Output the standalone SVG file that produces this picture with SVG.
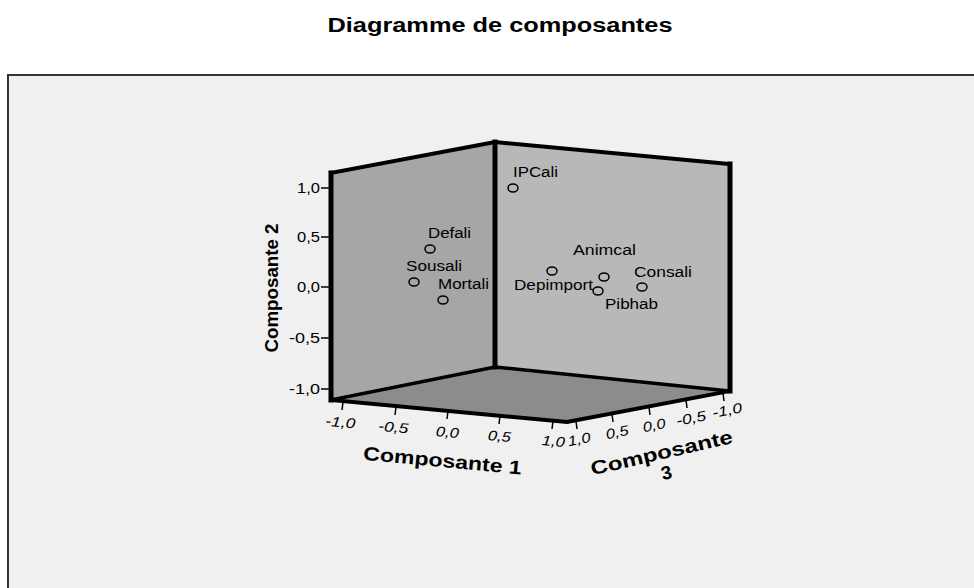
<svg xmlns="http://www.w3.org/2000/svg" width="974" height="588" viewBox="0 0 974 588">
<style>
text{font-family:"Liberation Sans",Arial,sans-serif;fill:#000}
.title{font-size:20px;font-weight:bold}
.axt{font-size:19px;font-weight:bold}
.tk{font-size:14px}
.tki{font-size:14px;font-style:italic}
.lbl{font-size:14px}
.pt{fill:none;stroke:#000;stroke-width:1.5}
.edge{stroke:#000;fill:none;stroke-linecap:square}
.tick{stroke:#000;stroke-width:1.5}
</style>
<rect x="0" y="0" width="974" height="588" fill="#fff"/>
<text class="title" x="500" y="32" text-anchor="middle" textLength="345" lengthAdjust="spacingAndGlyphs">Diagramme de composantes</text>
<rect x="8" y="75" width="980" height="530" fill="#f0f0f0" stroke="#333" stroke-width="2"/>
<g id="walls">
<polygon points="331,173 495,142 495,367 331,400" fill="#a6a6a6"/>
<polygon points="495,142 730,164 730,391 495,367" fill="#b8b8b8"/>
<polygon points="331,400 495,367 730,391 567,422" fill="#8c8c8c"/>
</g>
<g id="edges">
<polyline class="edge" points="331,173 495,142 730,164" stroke-width="4"/>
<line class="edge" x1="331" y1="173" x2="331" y2="400" stroke-width="5"/>
<line class="edge" x1="495" y1="142" x2="495" y2="367" stroke-width="5"/>
<line class="edge" x1="730" y1="164" x2="730" y2="391" stroke-width="5"/>
<polyline class="edge" points="331,400 495,367 730,391" stroke-width="3.5"/>
<polyline class="edge" points="331,400 567,422 730,391" stroke-width="4"/>
</g>
<g id="axis2">
<line class="tick" x1="321" y1="188" x2="330" y2="188"/>
<line class="tick" x1="321" y1="237" x2="330" y2="237"/>
<line class="tick" x1="321" y1="287" x2="330" y2="287"/>
<line class="tick" x1="321" y1="338" x2="330" y2="338"/>
<line class="tick" x1="321" y1="389" x2="330" y2="389"/>
<text class="tk" x="297" y="193" textLength="23" lengthAdjust="spacingAndGlyphs">1,0</text>
<text class="tk" x="297" y="242" textLength="23" lengthAdjust="spacingAndGlyphs">0,5</text>
<text class="tk" x="297" y="292" textLength="23" lengthAdjust="spacingAndGlyphs">0,0</text>
<text class="tk" x="289" y="343" textLength="31" lengthAdjust="spacingAndGlyphs">-0,5</text>
<text class="tk" x="289" y="394" textLength="31" lengthAdjust="spacingAndGlyphs">-1,0</text>
<text class="axt" transform="translate(278,288) rotate(-90)" text-anchor="middle" textLength="129" lengthAdjust="spacingAndGlyphs">Composante 2</text>
</g>
<g id="axis1">
<line class="tick" x1="343" y1="402" x2="342" y2="410"/>
<line class="tick" x1="396" y1="407" x2="395" y2="415"/>
<line class="tick" x1="448" y1="411" x2="447" y2="419"/>
<line class="tick" x1="500" y1="416" x2="499" y2="424"/>
<line class="tick" x1="553" y1="421" x2="552" y2="429"/>
<text class="tki" transform="translate(340,427) rotate(5.3)" text-anchor="middle" textLength="30" lengthAdjust="spacingAndGlyphs">-1,0</text>
<text class="tki" transform="translate(393,432) rotate(5.3)" text-anchor="middle" textLength="30" lengthAdjust="spacingAndGlyphs">-0,5</text>
<text class="tki" transform="translate(447,437) rotate(5.3)" text-anchor="middle" textLength="23" lengthAdjust="spacingAndGlyphs">0,0</text>
<text class="tki" transform="translate(499,441) rotate(5.3)" text-anchor="middle" textLength="23" lengthAdjust="spacingAndGlyphs">0,5</text>
<text class="tki" transform="translate(553,446) rotate(5.3)" text-anchor="middle" textLength="23" lengthAdjust="spacingAndGlyphs">1,0</text>
<text class="axt" transform="translate(442,467) rotate(5.3)" text-anchor="middle" textLength="159" lengthAdjust="spacingAndGlyphs">Composante 1</text>
</g>
<g id="axis3">
<line class="tick" x1="576" y1="421" x2="577" y2="429"/>
<line class="tick" x1="612" y1="414" x2="613" y2="422"/>
<line class="tick" x1="649" y1="407" x2="650" y2="415"/>
<line class="tick" x1="686" y1="400" x2="687" y2="408"/>
<line class="tick" x1="723" y1="393" x2="724" y2="401"/>
<text class="tki" transform="translate(580,444) rotate(-11)" text-anchor="middle" textLength="23" lengthAdjust="spacingAndGlyphs">1,0</text>
<text class="tki" transform="translate(618,437) rotate(-11)" text-anchor="middle" textLength="23" lengthAdjust="spacingAndGlyphs">0,5</text>
<text class="tki" transform="translate(655,430) rotate(-11)" text-anchor="middle" textLength="23" lengthAdjust="spacingAndGlyphs">0,0</text>
<text class="tki" transform="translate(692,423) rotate(-11)" text-anchor="middle" textLength="30" lengthAdjust="spacingAndGlyphs">-0,5</text>
<text class="tki" transform="translate(728,415) rotate(-11)" text-anchor="middle" textLength="30" lengthAdjust="spacingAndGlyphs">-1,0</text>
<text class="axt" transform="translate(663,459) rotate(-13)" text-anchor="middle" textLength="145" lengthAdjust="spacingAndGlyphs">Composante</text>
<text class="axt" transform="translate(668,479) rotate(-13)" text-anchor="middle">3</text>
</g>
<g id="IPCali"><ellipse class="pt" cx="513" cy="188" rx="5" ry="4"/><text class="lbl" x="513" y="177" textLength="45" lengthAdjust="spacingAndGlyphs">IPCali</text></g>
<g id="Defali"><ellipse class="pt" cx="430" cy="249" rx="5" ry="4"/><text class="lbl" x="428" y="238" textLength="43" lengthAdjust="spacingAndGlyphs">Defali</text></g>
<g id="Sousali"><ellipse class="pt" cx="414" cy="282" rx="5" ry="4"/><text class="lbl" x="406" y="271" textLength="56" lengthAdjust="spacingAndGlyphs">Sousali</text></g>
<g id="Mortali"><ellipse class="pt" cx="443" cy="300" rx="5" ry="4"/><text class="lbl" x="438" y="289" textLength="51" lengthAdjust="spacingAndGlyphs">Mortali</text></g>
<g id="Depimport"><ellipse class="pt" cx="552" cy="271" rx="5" ry="4"/><text class="lbl" x="514" y="290" textLength="79" lengthAdjust="spacingAndGlyphs">Depimport</text></g>
<g id="Animcal"><ellipse class="pt" cx="604" cy="277" rx="5" ry="4"/><text class="lbl" x="573" y="255" textLength="63" lengthAdjust="spacingAndGlyphs">Animcal</text></g>
<g id="Pibhab"><ellipse class="pt" cx="598" cy="291" rx="5" ry="4"/><text class="lbl" x="605" y="309" textLength="53" lengthAdjust="spacingAndGlyphs">Pibhab</text></g>
<g id="Consali"><ellipse class="pt" cx="642" cy="287" rx="5" ry="4"/><text class="lbl" x="634" y="277" textLength="58" lengthAdjust="spacingAndGlyphs">Consali</text></g>
</svg>
